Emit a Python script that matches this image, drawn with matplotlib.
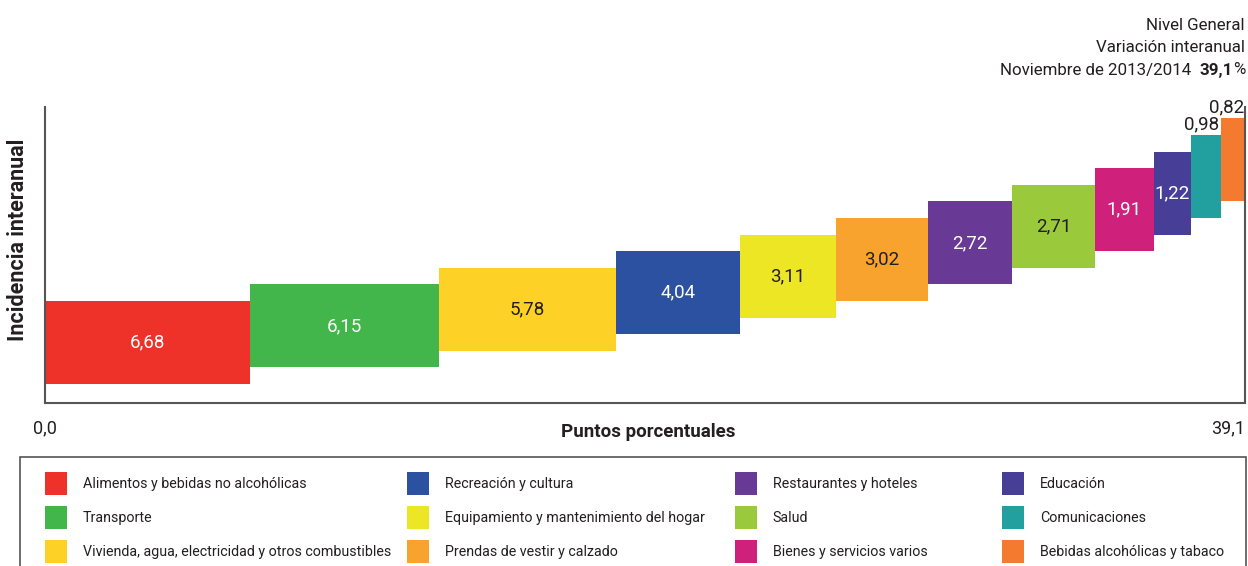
import numpy as np
import matplotlib
matplotlib.use('Agg')
import matplotlib.pyplot as plt
from matplotlib.patches import Patch, Rectangle

plt.rcParams['font.family'] = ['Liberation Sans Narrow', 'Roboto', 'DejaVu Sans']

categories = ['Alimentos y bebidas no alcohólicas', 'Transporte',
              'Vivienda, agua, electricidad y otros combustibles',
              'Recreación y cultura', 'Equipamiento y mantenimiento del hogar',
              'Prendas de vestir y calzado', 'Restaurantes y hoteles', 'Salud',
              'Bienes y servicios varios', 'Educación', 'Comunicaciones',
              'Bebidas alcohólicas y tabaco']
values = [6.68, 6.15, 5.78, 4.04, 3.11, 3.02, 2.72, 2.71, 1.91, 1.22, 0.98, 0.82]
value_labels = ['6,68', '6,15', '5,78', '4,04', '3,11', '3,02', '2,72', '2,71',
                '1,91', '1,22', '0,98', '0,82']
colors = ['#EE3129', '#42B54B', '#FDD126', '#2C51A1', '#EDE625', '#F8A32D',
          '#683A96', '#9AC93C', '#CF217C', '#473E98', '#22A09F', '#F37A2E']
text_colors = ['white', 'white', '#231F20', 'white', '#231F20', '#231F20',
               'white', '#231F20', 'white', 'white', '#231F20', '#231F20']
total = 39.1
total_label = '39,1'

W, H = 1248, 566
fig = plt.figure(figsize=(W / 100, H / 100), dpi=100)
ax = fig.add_axes([45 / W, 1 - 403 / H, 1200 / W, 296 / H])

lefts = np.concatenate([[0], np.cumsum(values)[:-1]])
bottoms = np.arange(len(values))
bar_h = 5

ax.bar(lefts, bar_h, width=values, bottom=bottoms, align='edge', color=colors)

for i, (l, v, lab) in enumerate(zip(lefts, values, value_labels)):
    if i < len(values) - 2:
        ax.text(l + v / 2, bottoms[i] + bar_h / 2, lab, ha='center', va='center',
                color=text_colors[i], fontsize=13.5)
    else:
        ax.text(l + v - 0.05, bottoms[i] + bar_h + 0.1, lab, ha='right', va='bottom',
                color='#231F20', fontsize=13.5)

ax.set_xlim(0, total)
ax.set_ylim(-1.14, 16.69)
ax.set_yticks([])
ax.set_xticks([0, total])
ax.set_xticklabels(['0,0', total_label], fontsize=13, color='#231F20')
ax.xaxis.get_majorticklabels()[1].set_horizontalalignment('right')
ax.tick_params(axis='x', length=0, pad=12)
for s in ['left', 'bottom', 'right']:
    ax.spines[s].set_color('#555555')
    ax.spines[s].set_linewidth(1.5)
ax.spines['top'].set_visible(False)

ax.set_xlabel('Puntos porcentuales', fontsize=13.5, fontweight='bold', color='#231F20')
ax.xaxis.set_label_coords(0.503, -0.098)
ax.xaxis.label.set_verticalalignment('center')
fig.text(18 / W, 1 - 240 / H, 'Incidencia interanual', rotation=90, ha='center',
         va='center', fontsize=15.5, fontweight='bold', color='#231F20')

# header, top right
fs = 12.2
fig.text(1245 / W, 1 - 25 / H, 'Nivel General', ha='right', va='center', fontsize=fs, color='#231F20')
fig.text(1245 / W, 1 - 47 / H, 'Variación interanual', ha='right', va='center', fontsize=fs, color='#231F20')
t1 = fig.text(1245 / W, 1 - 70 / H, '%', ha='right', va='center', fontsize=fs, color='#231F20')
t2 = ax.annotate('39,1', xy=(0, 0.5), xycoords=t1, xytext=(0.5, 0), textcoords='offset points',
                 ha='right', va='center', fontsize=fs, fontweight='bold', color='#231F20',
                 annotation_clip=False)
ax.annotate('Noviembre de 2013/2014  ', xy=(0, 0.5), xycoords=t2, ha='right', va='center',
            fontsize=fs, color='#231F20', annotation_clip=False)

# legend box
fig.patches.append(Rectangle((20 / W, 1 - 600 / H), 1226 / W, 143 / H, transform=fig.transFigure,
                             fill=False, edgecolor='#555555', linewidth=1.2))
col_x = [45, 407, 735, 1002]
for c in range(4):
    idx = range(c * 3, c * 3 + 3)
    handles = [Patch(facecolor=colors[i], edgecolor='none', label=categories[i]) for i in idx]
    fig.legend(handles=handles, loc='upper left', bbox_to_anchor=(col_x[c] / W, 1 - 472 / H),
               frameon=False, fontsize=10.3, handlelength=1.55, handleheight=2.1,
               labelspacing=0.75, handletextpad=1.1, borderaxespad=0, borderpad=0,
               labelcolor='#231F20')

fig.savefig('out.png', dpi=100)
